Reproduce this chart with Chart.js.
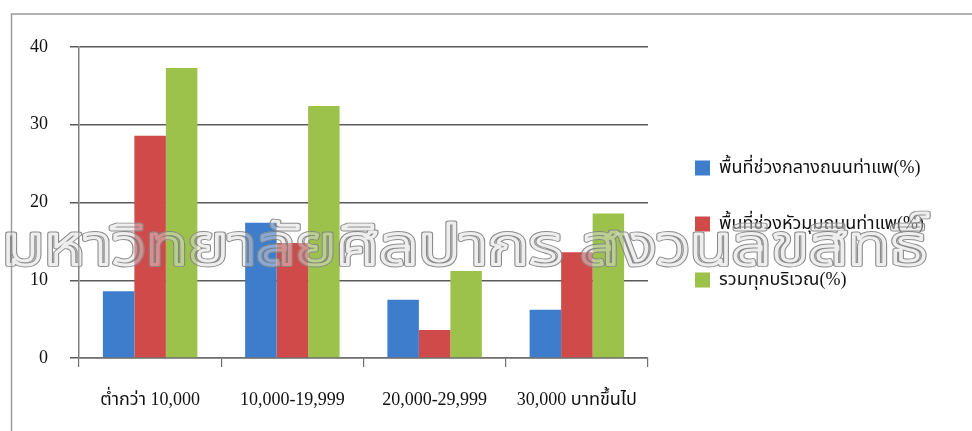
<!DOCTYPE html>
<html>
<head>
<meta charset="utf-8">
<script src="https://cdn.jsdelivr.net/npm/chart.js@4.4.1/dist/chart.umd.min.js"></script>
<style>
  html, body { margin: 0; padding: 0; background: #ffffff; }
  #wrap { position: relative; width: 972px; height: 431px; }
  canvas { display: block; }
</style>
</head>
<body>
<div id="wrap"><canvas id="c" width="972" height="431"></canvas></div>
<script>
// ---- data ----
const categories = ['ต่ำกว่า 10,000', '10,000-19,999', '20,000-29,999', '30,000 บาทขึ้นไป'];
const seriesNames = ['พื้นที่ช่วงกลางถนนท่าแพ(%)', 'พื้นที่ช่วงหัวมุมถนนท่าแพ(%)', 'รวมทุกบริเวณ(%)'];
const centerArea = [8.6, 17.4, 7.5, 6.2];
const cornerArea = [28.6, 14.8, 3.6, 13.6];
const allAreas = [37.3, 32.4, 11.2, 18.6];
const yTicks = [0, 10, 20, 30, 40];
const watermark = 'มหาวิทยาลัยศิลปากร สงวนลิขสิทธิ์';

const colors = ['#3D7DCB', '#D04A4A', '#9CC24B'];
const serif = '"Liberation Serif", "Times New Roman", "Noto Sans Thai", serif';

const framePlugin = {
  id: 'frame',
  beforeLayout(chart) {
    const lg = chart.legend;
    if (lg && !lg._fixedFit) {
      const orig = lg.fit.bind(lg);
      lg.fit = function () { orig(); this.width = 324; };
      lg._fixedFit = true;
    }
  },
  afterLayout(chart) {
    const lg = chart.legend;
    if (lg) { lg.top = 121; lg.bottom = 431; lg.left = 657; lg.right = 972; }
  },
  beforeDraw(chart) {
    const ctx = chart.ctx;
    ctx.save();
    ctx.fillStyle = '#ffffff';
    ctx.fillRect(0, 0, chart.width, chart.height);
    ctx.strokeStyle = '#9a9a9a';
    ctx.lineWidth = 1.5;
    ctx.beginPath();
    ctx.moveTo(chart.width, 14);
    ctx.lineTo(11.5, 14);
    ctx.lineTo(11.5, chart.height);
    ctx.stroke();
    ctx.restore();
  },
  afterDraw(chart) {
    const ctx = chart.ctx;
    const font = '56px "Noto Sans Thai", "Loma", "Garuda", "Noto Sans", sans-serif';
    const baseY = 264;
    const mk = () => {
      const c = document.createElement('canvas');
      c.width = chart.width; c.height = chart.height;
      const g = c.getContext('2d');
      g.font = font; g.textBaseline = 'alphabetic'; g.lineJoin = 'round';
      return [c, g];
    };
    const [off, o] = mk();
    const w = o.measureText(watermark).width;
    const sx = 925 / w;
    o.translate(2, baseY);
    o.scale(sx, 1);
    o.strokeStyle = 'rgba(255,255,255,0.4)';
    o.lineWidth = 4.6;
    o.strokeText(watermark, 0, 0);
    const [o2c, o2] = mk();
    o2.translate(2, baseY); o2.scale(sx, 1);
    o2.strokeStyle = 'rgba(120,120,120,0.85)';
    o2.lineWidth = 4.8;
    o2.strokeText(watermark, 0, 0);
    o2.globalCompositeOperation = 'destination-out';
    o2.lineWidth = 3.0;
    o2.strokeText(watermark, 0, 0);
    o.setTransform(1, 0, 0, 1, 0, 0);
    o.drawImage(o2c, 0, 0);
    ctx.save();
    ctx.drawImage(off, 0, 0);
    ctx.restore();
  }
};

new Chart(document.getElementById('c'), {
  type: 'bar',
  data: {
    labels: categories,
    datasets: [
      { label: seriesNames[0], data: centerArea, backgroundColor: colors[0] },
      { label: seriesNames[1], data: cornerArea, backgroundColor: colors[1] },
      { label: seriesNames[2], data: allAreas, backgroundColor: colors[2] }
    ]
  },
  options: {
    responsive: false,
    animation: false,
    devicePixelRatio: 1,
    datasets: { bar: { categoryPercentage: 0.664, barPercentage: 1.0 } },
    layout: { padding: { left: 0, right: 0, top: 47, bottom: 3 } },
    plugins: {
      tooltip: { enabled: false },
      legend: {
        position: 'right',
        align: 'start',
        labels: {
          boxWidth: 15,
          boxHeight: 15,
          padding: 38,
          color: '#111111',
          font: { family: serif, size: 18 }
        }
      }
    },
    scales: {
      x: {
        afterFit(scale) { scale.height = 70; },
        grid: { display: true, drawOnChartArea: false, drawTicks: true, tickLength: 9, offset: true, color: '#707070', lineWidth: 1.2 },
        border: { display: true, color: '#707070', width: 1.5 },
        ticks: { color: '#111111', font: { family: serif, size: 18 }, padding: 22, maxRotation: 0 }
      },
      y: {
        min: 0,
        max: 40,
        afterFit(scale) { scale.width = 79; },
        afterBuildTicks(scale) { scale.ticks = yTicks.map(v => ({ value: v })); },
        grid: { color: '#5a5a5a', lineWidth: 1.5, tickLength: 9 },
        border: { display: true, color: '#808080', width: 1.5 },
        ticks: { color: '#111111', font: { family: serif, size: 18 }, padding: 22 }
      }
    }
  },
  plugins: [framePlugin]
});
</script>
</body>
</html>
